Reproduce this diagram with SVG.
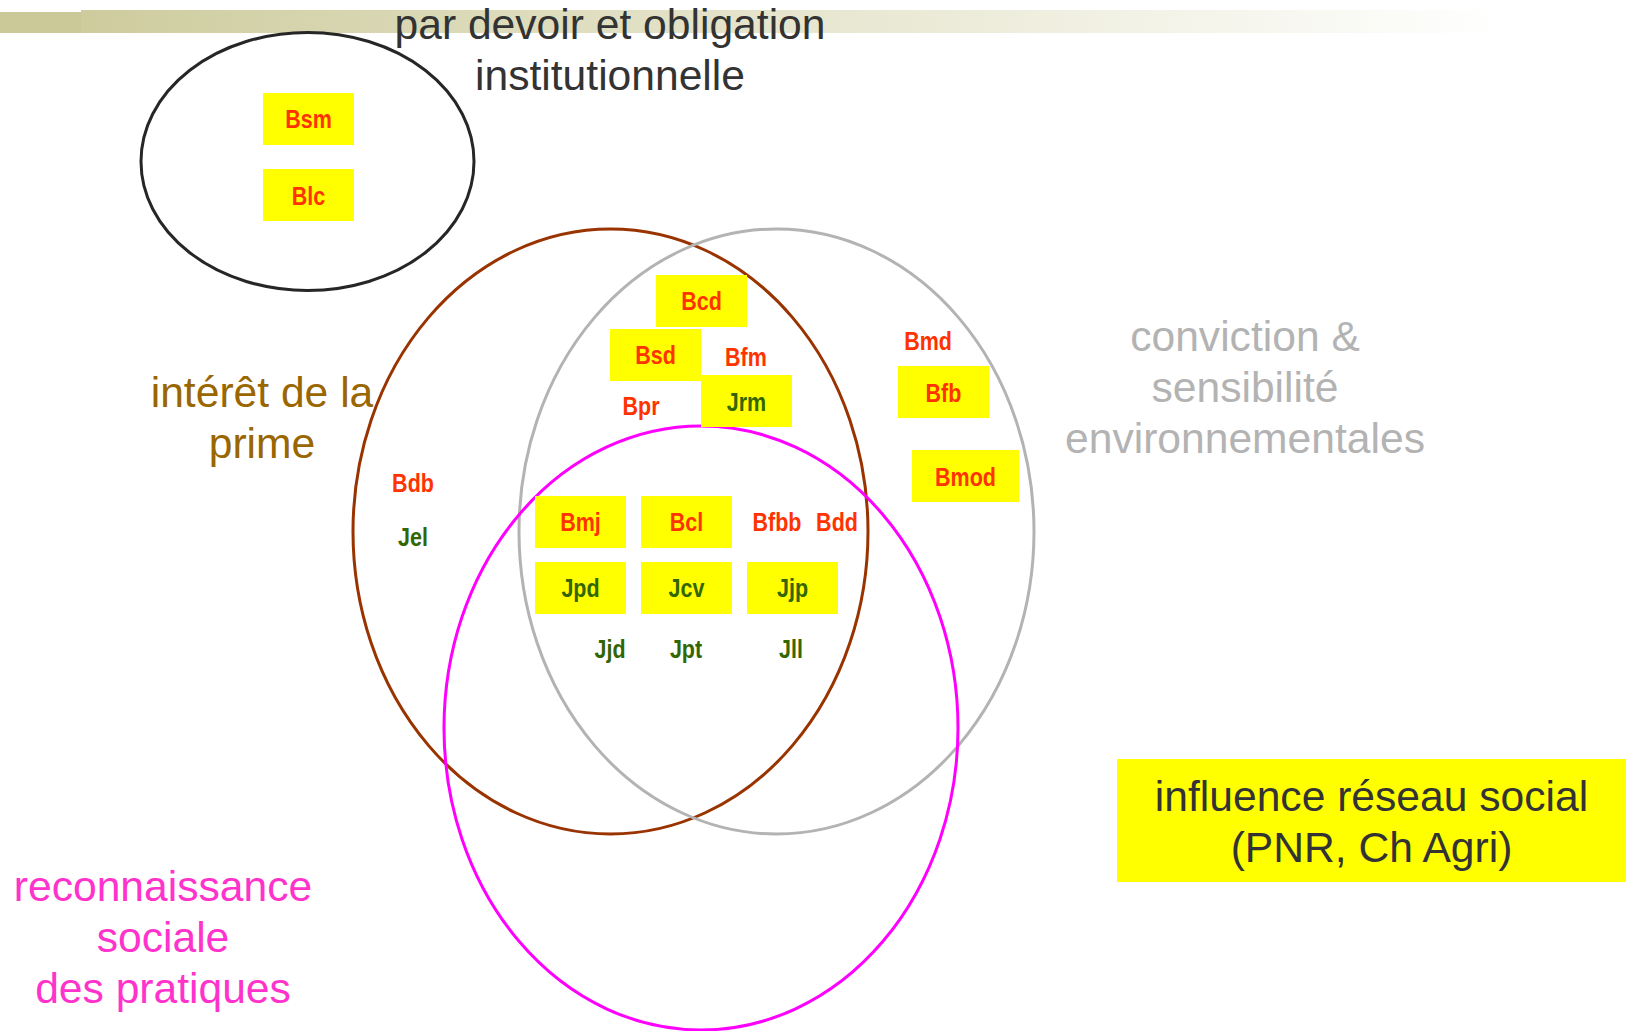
<svg xmlns="http://www.w3.org/2000/svg" width="1626" height="1031" viewBox="0 0 1626 1031">
  <defs>
    <linearGradient id="bar" x1="0" y1="0" x2="1500" y2="0" gradientUnits="userSpaceOnUse">
      <stop offset="0" stop-color="#CBC998"/>
      <stop offset="1" stop-color="#FFFFFF"/>
    </linearGradient>
    <style>
      .big { font-family: "Liberation Sans", Arial, sans-serif; font-size: 42.6px; text-anchor: middle; }
      .lbl { font-family: "Liberation Sans", Arial, sans-serif; font-size: 25px; font-weight: bold; text-anchor: middle; }
      .red { fill: #FF3300; }
      .grn { fill: #336600; }
      .box { fill: #FFFF00; }
      .ell { fill: none; stroke-width: 3; }
    </style>
  </defs>
  <rect width="1626" height="1031" fill="#FFFFFF"/>

  <g id="header">
    <rect x="0" y="12" width="81" height="21" fill="#CBC998"/>
    <rect x="81" y="10" width="1545" height="23" fill="url(#bar)"/>
  </g>

  <g id="sets">
    <g id="set-devoir">
      <ellipse class="ell" cx="307.5" cy="161.5" rx="166.5" ry="129" stroke="#262626"/>
    </g>
    <g id="set-prime">
      <ellipse class="ell" cx="610.5" cy="531.5" rx="257.5" ry="302.5" stroke="#993300"/>
    </g>
    <g id="set-conviction">
      <ellipse class="ell" cx="776.5" cy="531.5" rx="257.5" ry="302.5" stroke="#B3B3B3"/>
    </g>
    <g id="set-reconnaissance">
      <ellipse class="ell" cx="701" cy="728" rx="257" ry="302" stroke="#FF00FF"/>
    </g>
  </g>

  <g id="titles">
    <g id="title-devoir">
      <text class="big" x="610" y="39" fill="#333333">par devoir et obligation</text>
      <text class="big" x="610" y="90" fill="#333333">institutionnelle</text>
    </g>
    <g id="title-prime">
      <text class="big" x="262" y="407" fill="#996600">intérêt de la</text>
      <text class="big" x="262" y="458" fill="#996600">prime</text>
    </g>
    <g id="title-conviction">
      <text class="big" x="1245" y="351" fill="#B3B3B3">conviction &amp;</text>
      <text class="big" x="1245" y="402" fill="#B3B3B3">sensibilité</text>
      <text class="big" x="1245" y="453" fill="#B3B3B3">environnementales</text>
    </g>
    <g id="title-reconnaissance">
      <text class="big" x="163" y="901" fill="#FF33CC">reconnaissance</text>
      <text class="big" x="163" y="952" fill="#FF33CC">sociale</text>
      <text class="big" x="163" y="1003" fill="#FF33CC">des pratiques</text>
    </g>
    <g id="title-influence">
      <rect class="box" x="1117" y="759" width="509" height="123"/>
      <text class="big" x="1371.5" y="811" fill="#333333">influence réseau social</text>
      <text class="big" x="1371.5" y="862" fill="#333333">(PNR, Ch Agri)</text>
    </g>
  </g>

  <g id="connectors"></g>

  <g id="nodes">
    <g id="Bsm"><rect class="box" x="263" y="93" width="91" height="52"/><text class="lbl red" transform="translate(308.5 128) scale(0.86 1)">Bsm</text></g>
    <g id="Blc"><rect class="box" x="263" y="169" width="91" height="52"/><text class="lbl red" transform="translate(308.5 205) scale(0.86 1)">Blc</text></g>
    <g id="Bcd"><rect class="box" x="656" y="275" width="91" height="52"/><text class="lbl red" transform="translate(701.5 310) scale(0.86 1)">Bcd</text></g>
    <g id="Bsd"><rect class="box" x="610" y="329" width="91" height="52"/><text class="lbl red" transform="translate(655.5 364) scale(0.86 1)">Bsd</text></g>
    <g id="Bfm"><text class="lbl red" transform="translate(746 366) scale(0.86 1)">Bfm</text></g>
    <g id="Jrm"><rect class="box" x="701" y="375" width="91" height="52"/><text class="lbl grn" transform="translate(746.5 411) scale(0.86 1)">Jrm</text></g>
    <g id="Bpr"><text class="lbl red" transform="translate(641 415) scale(0.86 1)">Bpr</text></g>
    <g id="Bmd"><text class="lbl red" transform="translate(928 350) scale(0.86 1)">Bmd</text></g>
    <g id="Bfb"><rect class="box" x="898" y="366" width="91" height="52"/><text class="lbl red" transform="translate(943.5 402) scale(0.86 1)">Bfb</text></g>
    <g id="Bmod"><rect class="box" x="912" y="450" width="107" height="52"/><text class="lbl red" transform="translate(965.5 486) scale(0.86 1)">Bmod</text></g>
    <g id="Bdb"><text class="lbl red" transform="translate(413 492) scale(0.86 1)">Bdb</text></g>
    <g id="Jel"><text class="lbl grn" transform="translate(413 546) scale(0.86 1)">Jel</text></g>
    <g id="Bmj"><rect class="box" x="535" y="496" width="91" height="52"/><text class="lbl red" transform="translate(580.5 531) scale(0.86 1)">Bmj</text></g>
    <g id="Bcl"><rect class="box" x="641" y="496" width="91" height="52"/><text class="lbl red" transform="translate(686.5 531) scale(0.86 1)">Bcl</text></g>
    <g id="Bfbb"><text class="lbl red" transform="translate(777 531) scale(0.86 1)">Bfbb</text></g>
    <g id="Bdd"><text class="lbl red" transform="translate(837 531) scale(0.86 1)">Bdd</text></g>
    <g id="Jpd"><rect class="box" x="535" y="562" width="91" height="52"/><text class="lbl grn" transform="translate(580.5 597) scale(0.86 1)">Jpd</text></g>
    <g id="Jcv"><rect class="box" x="641" y="562" width="91" height="52"/><text class="lbl grn" transform="translate(686.5 597) scale(0.86 1)">Jcv</text></g>
    <g id="Jjp"><rect class="box" x="747" y="562" width="91" height="52"/><text class="lbl grn" transform="translate(792.5 597) scale(0.86 1)">Jjp</text></g>
    <g id="Jjd"><text class="lbl grn" transform="translate(610 658) scale(0.86 1)">Jjd</text></g>
    <g id="Jpt"><text class="lbl grn" transform="translate(686 658) scale(0.86 1)">Jpt</text></g>
    <g id="Jll"><text class="lbl grn" transform="translate(791 658) scale(0.86 1)">Jll</text></g>
  </g>
</svg>
